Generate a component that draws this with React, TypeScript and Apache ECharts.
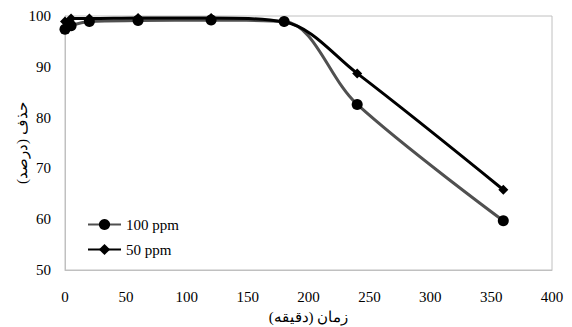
import React, { useEffect, useRef } from "react";
import * as echarts from "echarts";

const times = [0, 5, 20, 60, 120, 180, 240, 360];
const ppm100 = [97.4, 98.1, 98.9, 99.1, 99.2, 98.9, 82.6, 59.7];
const ppm50 = [98.9, 99.5, 99.5, 99.6, 99.6, 98.8, 88.7, 65.8];
const seriesNames = ["100 ppm", "50 ppm"];
const xTitle = "زمان (دقیقه)";
const yTitle = "حذف (درصد)";

export default function App() {
  const ref = useRef<HTMLDivElement>(null);
  useEffect(() => {
    const chart = echarts.init(ref.current!, null, { renderer: "svg" });
    const font = "Times New Roman, Liberation Serif, serif";
    chart.setOption({
      animation: false,
      backgroundColor: "#fff",
      textStyle: { fontFamily: font },
      grid: {
        left: 65, right: 20, top: 16, bottom: 57,
        show: true, borderColor: "#c0c0c0", borderWidth: 1,
        containLabel: false, outerBoundsMode: "none",
      },
      legend: {
        left: 87,
        top: 217,
        padding: 0,
        orient: "vertical",
        itemGap: 10,
        itemWidth: 33,
        itemHeight: 14,
        textStyle: { fontFamily: font, fontSize: 15, color: "#000" },
        data: seriesNames,
      },
      xAxis: {
        type: "value",
        min: 0,
        max: 400,
        interval: 50,
        name: xTitle,
        nameLocation: "middle",
        nameGap: 39,
        nameMoveOverlap: false,
        nameTextStyle: { fontFamily: font, fontSize: 15, color: "#000" },
        axisLine: { show: true, lineStyle: { color: "#c0c0c0" } },
        axisTick: { show: false },
        splitLine: { show: false },
        axisLabel: { fontFamily: font, fontSize: 15, color: "#000", margin: 19 },
      },
      yAxis: {
        type: "value",
        min: 50,
        max: 100,
        interval: 10,
        name: yTitle,
        nameLocation: "middle",
        nameGap: 36,
        nameMoveOverlap: false,
        nameTextStyle: { fontFamily: font, fontSize: 15, color: "#000" },
        axisLine: { show: true, lineStyle: { color: "#c0c0c0" } },
        axisTick: { show: false },
        splitLine: { show: false },
        axisLabel: { fontFamily: font, fontSize: 15, color: "#000", margin: 14 },
      },
      series: [
        {
          name: seriesNames[0],
          type: "line",
          smooth: 0.35,
          data: times.map((t, i) => [t, ppm100[i]]),
          symbol: "circle",
          symbolSize: 11,
          lineStyle: { color: "#505050", width: 3 },
          itemStyle: { color: "#000" },
          z: 2,
        },
        {
          name: seriesNames[1],
          type: "line",
          smooth: 0.35,
          data: times.map((t, i) => [t, ppm50[i]]),
          symbol: "diamond",
          symbolSize: 10,
          lineStyle: { color: "#000", width: 3 },
          itemStyle: { color: "#000" },
          z: 3,
        },
      ],
    });
    return () => chart.dispose();
  }, []);
  return <div ref={ref} style={{ width: 572, height: 327, position: "absolute", left: 0, top: 0 }} />;
}
